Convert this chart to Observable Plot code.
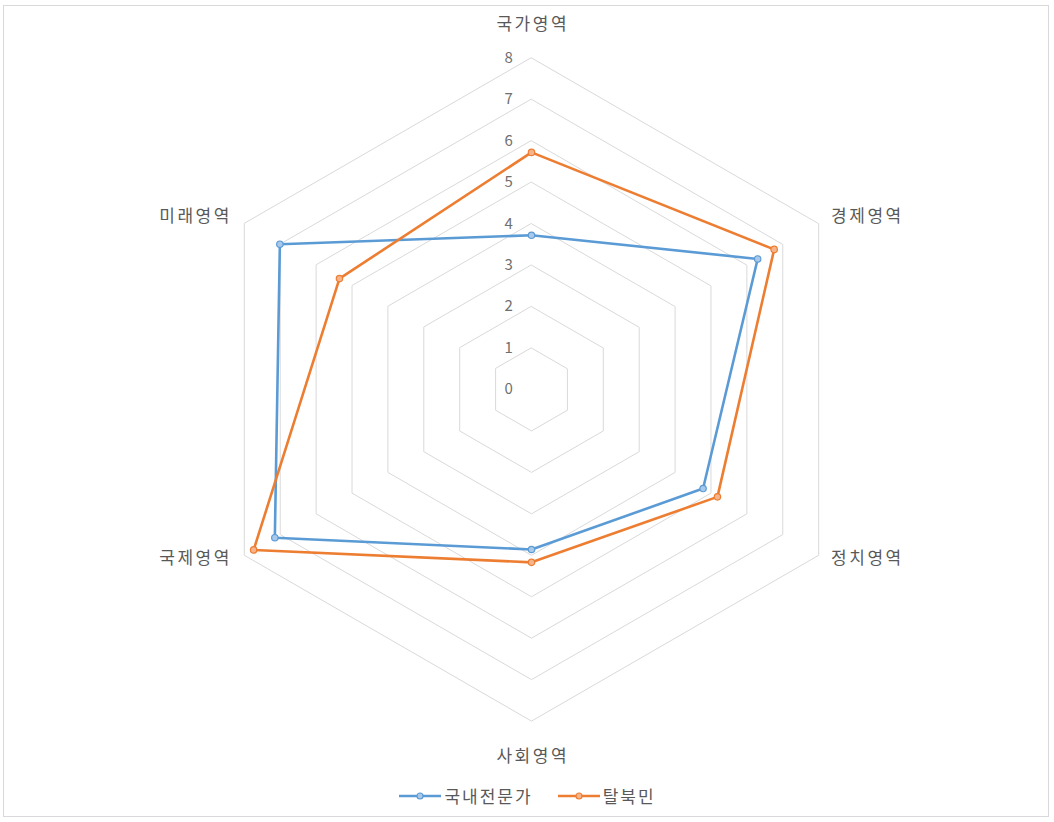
<!DOCTYPE html>
<html>
<head>
<meta charset="utf-8">
<script src="https://cdn.jsdelivr.net/npm/d3@7"></script>
<script src="https://cdn.jsdelivr.net/npm/@observablehq/plot@0.6"></script>
<style>
  html, body { margin: 0; padding: 0; background: #fff; }
  #frame {
    position: absolute; left: 3px; top: 5px; width: 1046px; height: 812px;
    border: 1px solid #d9d9d9; box-sizing: border-box;
  }
  #chart { position: absolute; left: 0; top: 0; }
  #legend {
    position: absolute; left: 0; top: 783px; width: 1054px;
    display: flex; justify-content: center; align-items: center; gap: 0;
    font-family: "Noto Sans CJK KR", "Noto Sans", sans-serif; font-size: 17px; color: #595959;
    letter-spacing: 2px;
  }
  .item { display: flex; align-items: center; margin: 0 12px; }
  .item svg { margin-right: 2px; }
</style>
</head>
<body>
<div id="frame"></div>
<div id="chart"></div>
<div id="legend"></div>
<script>
const categories = ["국가영역", "경제영역", "정치영역", "사회영역", "국제영역", "미래영역"];
const seriesNames = ["국내전문가", "탈북민"];
const expert = [3.72, 6.3, 4.78, 3.86, 7.15, 7.01];
const defector = [5.72, 6.76, 5.18, 4.17, 7.74, 5.35];
const tickLevels = [0, 1, 2, 3, 4, 5, 6, 7, 8];
const colors = ["#5B9BD5", "#ED7D31"];
const fills = ["#A9C8EA", "#F5B48C"];

const W = 1054, H = 770;
const cx = 531, cy = 389, unit = 41.45;
const n = categories.length;
const ang = i => Math.PI / 2 - i * 2 * Math.PI / n;
const px = (i, v) => v * Math.cos(ang(i));
const py = (i, v) => v * Math.sin(ang(i));

const grid = [];
for (const lv of tickLevels.slice(1)) {
  categories.forEach((c, i) => grid.push({lv, x: px(i, lv), y: py(i, lv)}));
}
const series = [];
[expert, defector].forEach((vals, s) => {
  vals.forEach((v, i) => series.push({s: seriesNames[s], x: px(i, v), y: py(i, v)}));
});
const catLabels = categories.map((c, i) => {
  let x = px(i, 8), y = py(i, 8);
  let anchor = "middle";
  if (i === 0) { y = 8 + 0.8; x = x + 0.03; }
  else if (i === 3) { y = -8 - 0.85; x = x + 0.03; }
  else if (i === 1 || i === 2) { x = x + 0.3; anchor = "start"; y = y + (i === 1 ? 0.17 : -0.08); }
  else { x = x - 0.3; anchor = "end"; y = y + (i === 5 ? 0.17 : -0.08); }
  return {c, x, y, anchor};
});
const ticks = tickLevels.map(t => ({t, x: -0.52, y: t}));

const plot = Plot.plot({
  width: W, height: H,
  marginTop: 0, marginBottom: 0, marginLeft: 0, marginRight: 0,
  x: {domain: [-cx / unit, (W - cx) / unit], axis: null},
  y: {domain: [-(H - cy) / unit, cy / unit], axis: null},
  style: {fontFamily: '"Noto Sans CJK KR", "Noto Sans", sans-serif', background: "transparent", letterSpacing: "2.5px"},
  marks: [
    Plot.line(grid, {x: "x", y: "y", z: "lv", curve: "linear-closed", stroke: "#d9d9d9", strokeWidth: 1}),
    Plot.text(ticks, {x: "x", y: "y", text: d => String(d.t), fill: "#6f6f6f", fontSize: 15, textAnchor: "middle"}),
    Plot.text(catLabels.filter(d => d.anchor === "middle"), {x: "x", y: "y", text: "c", fill: "#595959", fontSize: 17, textAnchor: "middle"}),
    Plot.text(catLabels.filter(d => d.anchor === "start"), {x: "x", y: "y", text: "c", fill: "#595959", fontSize: 17, textAnchor: "start"}),
    Plot.text(catLabels.filter(d => d.anchor === "end"), {x: "x", y: "y", text: "c", fill: "#595959", fontSize: 17, textAnchor: "end"}),
    Plot.line(series, {x: "x", y: "y", z: "s", curve: "linear-closed", stroke: d => d.s, strokeWidth: 2.6}),
    Plot.dot(series, {x: "x", y: "y", r: 3.2, stroke: d => d.s, fill: d => d.s === seriesNames[0] ? fills[0] : fills[1], strokeWidth: 1.2})
  ],
  color: {domain: seriesNames, range: colors}
});
document.getElementById("chart").appendChild(plot);

const legend = document.getElementById("legend");
seriesNames.forEach((name, s) => {
  const item = document.createElement("div");
  item.className = "item";
  item.innerHTML = `<svg width="44" height="12"><line x1="1" y1="6" x2="43" y2="6" stroke="${colors[s]}" stroke-width="2.6"/><circle cx="22" cy="6" r="3" fill="${fills[s]}" stroke="${colors[s]}" stroke-width="1.2"/></svg><span>${name}</span>`;
  legend.appendChild(item);
});
</script>
</body>
</html>
